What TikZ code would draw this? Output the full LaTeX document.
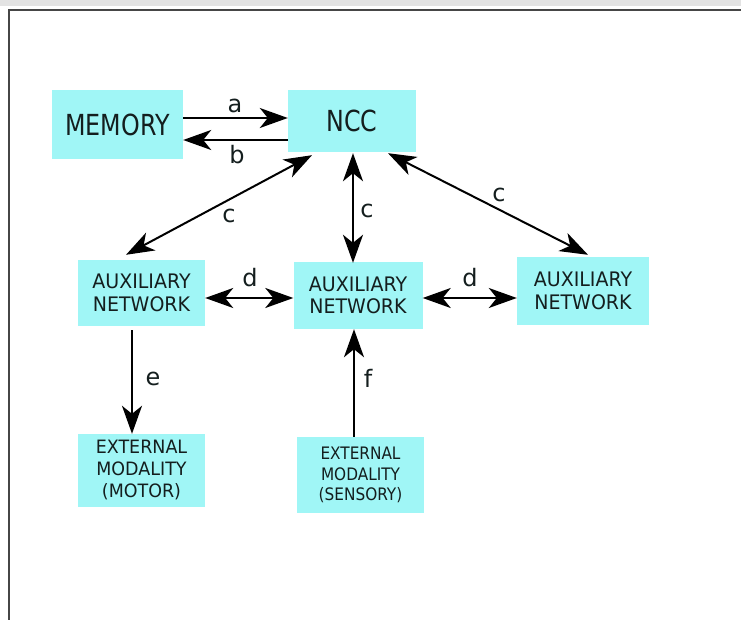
\documentclass[tikz,border=0pt]{standalone}
\usepackage{fontspec}
\setmainfont{DejaVu Sans}
\newfontfamily\bigf[FakeStretch=0.82]{DejaVu Sans}
\newfontfamily\midf[FakeStretch=0.95]{DejaVu Sans}
\newfontfamily\senf[FakeStretch=0.89]{DejaVu Sans}
\usetikzlibrary{arrows.meta}
\definecolor{boxc}{RGB}{160,246,246}
\definecolor{txtc}{RGB}{20,30,30}
\definecolor{framec}{RGB}{70,70,70}
\definecolor{bandc}{RGB}{227,227,227}
\tikzset{
  bigtip/.tip={Stealth[length=28pt,width=20pt,inset=8pt]},
  box/.style={fill=boxc, draw=none, inner sep=0pt, align=center, text=txtc},
  arr/.style={-bigtip, line width=2pt, black},
  darr/.style={bigtip-bigtip, line width=2pt, black},
  lab/.style={text=txtc, inner sep=0pt, font=\fontsize{24}{24}\selectfont},
  bigtext/.style={font=\bigf\fontsize{29}{30}\selectfont},
  auxtext/.style={font=\midf\fontsize{20}{22.5}\selectfont},
  mottext/.style={font=\midf\fontsize{18.4}{22}\selectfont},
  sentext/.style={font=\senf\fontsize{17.2}{20.5}\selectfont}
}
\begin{document}
\begin{tikzpicture}[x=1pt,y=-1pt]
\useasboundingbox (0,0) rectangle (741,620);
\fill[bandc] (0,0) rectangle (741,6);
\draw[framec, line width=2pt] (9,620) -- (9,10) -- (741,10);

\node[box, bigtext, minimum width=131pt, minimum height=69pt] (mem) at (117.5,124.5) {MEMORY};
\node[box, bigtext, minimum width=128pt, minimum height=62pt] (ncc) at (352,121) {NCC};
\node[box, auxtext, minimum width=127pt, minimum height=66pt] (auxl) at (141.5,293) {AUXILIARY\\NETWORK};
\node[box, auxtext, minimum width=129pt, minimum height=67pt] (auxm) at (358,295.5) {AUXILIARY\\NETWORK};
\node[box, auxtext, minimum width=132pt, minimum height=68pt] (auxr) at (583,291) {AUXILIARY\\NETWORK};
\node[box, mottext, minimum width=127pt, minimum height=73pt] (motor) at (141.5,470.5) {EXTERNAL\\MODALITY\\(MOTOR)};
\node[box, sentext, minimum width=127pt, minimum height=76pt] (sens) at (360.5,475) {EXTERNAL\\MODALITY\\(SENSORY)};

% a, b
\draw[arr] ([yshift=6.5pt]mem.east) -- ([yshift=6.5pt]mem.east -| ncc.west);
\draw[arr] ([yshift=-15.5pt]mem.east -| ncc.west) -- ([yshift=-15.5pt]mem.east);
% c
\draw[darr] ([xshift=-40pt,yshift=-3pt]ncc.south) -- ([xshift=-15.5pt,yshift=5pt]auxl.north);
\draw[darr] ([xshift=1pt,yshift=-1pt]ncc.south) -- ([xshift=1pt,yshift=-1pt]ncc.south |- auxm.north);
\draw[darr] ([xshift=36pt,yshift=-1pt]ncc.south) -- ([xshift=5pt,yshift=2pt]auxr.north);
% d
\draw[darr] ([yshift=-5pt]auxl.east) -- ([yshift=-5pt]auxl.east -| auxm.west);
\draw[darr] ([yshift=-2.5pt]auxm.east) -- ([yshift=-2.5pt]auxm.east -| auxr.west);
% e, f
\draw[arr] ([xshift=-9.5pt,yshift=-4pt]auxl.south) -- ([xshift=-9.5pt]auxl.south |- motor.north);
\draw[arr] ([xshift=-6.5pt]sens.north) -- ([xshift=-6.5pt]sens.north |- auxm.south);

% labels
\node[lab] (la) at (235,106) {a};
\node[lab] (lb) at (237,154.5) {b};
\node[lab] (lc1) at (229,216) {c};
\node[lab] (lc2) at (367,211) {c};
\node[lab] (lc3) at (499,195) {c};
\node[lab] (ld1) at (250,277.5) {d};
\node[lab] (ld2) at (470,277.5) {d};
\node[lab] (le) at (153,379) {e};
\node[lab] (lf) at (368,378) {f};
\end{tikzpicture}
\end{document}
